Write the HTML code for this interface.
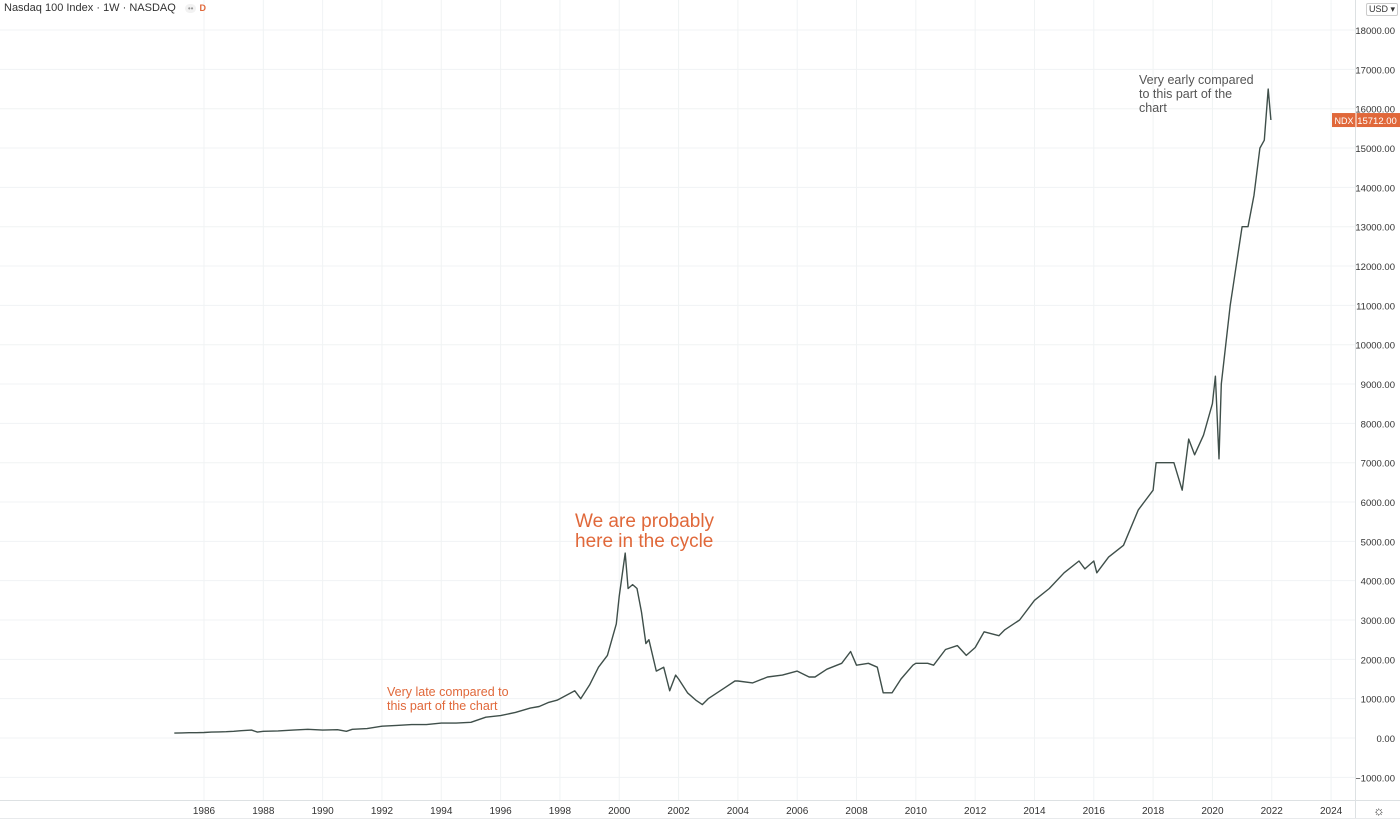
<!DOCTYPE html>
<html><head><meta charset="utf-8"><style>
body{margin:0;background:#fff;width:1400px;height:824px;overflow:hidden;font-family:"Liberation Sans",sans-serif}
svg{display:block}
</style></head><body>
<svg id="c" width="1400" height="824"></svg>
<script>
const years=[1985,1985.25,1985.5,1985.75,1986,1986.25,1986.5,1986.75,1987,1987.25,1987.6,1987.8,1988,1988.5,1989,1989.5,1990,1990.5,1990.8,1991,1991.5,1992,1992.5,1993,1993.5,1994,1994.5,1995,1995.5,1996,1996.5,1997,1997.3,1997.6,1997.9,1998,1998.5,1998.7,1999,1999.3,1999.6,1999.9,2000,2000.2,2000.3,2000.45,2000.6,2000.75,2000.9,2001,2001.25,2001.5,2001.7,2001.9,2002,2002.3,2002.6,2002.8,2003,2003.3,2003.6,2003.9,2004,2004.5,2005,2005.5,2006,2006.4,2006.6,2007,2007.5,2007.8,2008,2008.4,2008.7,2008.9,2009.2,2009.5,2009.9,2010,2010.4,2010.6,2011,2011.4,2011.7,2012,2012.3,2012.8,2013,2013.5,2014,2014.5,2015,2015.5,2015.7,2016,2016.1,2016.5,2017,2017.5,2018,2018.1,2018.7,2018.98,2019.2,2019.4,2019.7,2020,2020.1,2020.22,2020.3,2020.6,2020.7,2020.9,2021,2021.2,2021.4,2021.6,2021.75,2021.88,2021.97];
const values=[125,130,135,135,140,150,155,160,170,185,200,150,170,180,200,220,200,210,170,220,240,300,320,340,340,380,380,400,530,570,650,760,800,900,960,1000,1200,1000,1350,1800,2100,2900,3600,4700,3800,3900,3800,3200,2400,2500,1700,1800,1200,1600,1500,1150,950,850,1000,1150,1300,1450,1450,1400,1550,1600,1700,1550,1550,1750,1900,2200,1850,1900,1800,1150,1150,1500,1850,1900,1900,1850,2250,2350,2100,2300,2700,2600,2750,3000,3500,3800,4200,4500,4300,4500,4200,4600,4900,5800,6300,7000,7000,6300,7600,7200,7700,8500,9200,7100,9000,11000,11500,12500,13000,13000,13800,15000,15200,16500,15712];
const yTicks=[-1000,0,1000,2000,3000,4000,5000,6000,7000,8000,9000,10000,11000,12000,13000,14000,15000,16000,17000,18000];
const xTicks=[1986,1988,1990,1992,1994,1996,1998,2000,2002,2004,2006,2008,2010,2012,2014,2016,2018,2020,2022,2024];
const NS='http://www.w3.org/2000/svg';
const svg=document.getElementById('c');
const X=y=>204+(y-1986)*29.66;
const Y=v=>738-v*0.03933;
function mk(t,a,txt){const e=document.createElementNS(NS,t);for(const k in a)e.setAttribute(k,a[k]);if(txt!==undefined)e.textContent=txt;svg.appendChild(e);return e;}
yTicks.forEach(v=>{
 mk('line',{x1:0,x2:1355,y1:Y(v),y2:Y(v),stroke:'#f0f3f4','stroke-width':1});
 const t=mk('text',{x:1395,y:Y(v)+4,'text-anchor':'end','font-size':9.5,fill:'#333'},v.toFixed(2).replace(/^-/,'\u2212'));
 
 
});
xTicks.forEach(y=>{
 mk('line',{x1:X(y),x2:X(y),y1:0,y2:800,stroke:'#f0f3f4','stroke-width':1});
 const t=mk('text',{x:X(y),y:814,'text-anchor':'middle','font-size':10,fill:'#333'},String(y));
 
 
});
mk('line',{x1:1355.5,x2:1355.5,y1:0,y2:818,stroke:'#dde1e3'});
mk('line',{x1:0,x2:1400,y1:800.5,y2:800.5,stroke:'#dde1e3'});
mk('line',{x1:0,x2:1400,y1:818.5,y2:818.5,stroke:'#e8eaec'});
let d='';years.forEach((y,i)=>{d+=(i?'L':'M')+X(y).toFixed(1)+','+Y(values[i]).toFixed(1);});
const p=mk('path',{d:d,fill:'none',stroke:'#3f4f4a','stroke-width':1.4,'stroke-linejoin':'round'});


const last=values[values.length-1];
const lb=mk('rect',{x:1332,y:Y(last)-7,width:68,height:14,fill:'#e0683a'});


mk('line',{x1:1356,x2:1356,y1:Y(last)-7,y2:Y(last)+7,stroke:'#fff'});
mk('text',{x:1344,y:Y(last)+4,'text-anchor':'middle','font-size':9,fill:'#fff'},'NDX');
mk('text',{x:1377,y:Y(last)+4,'text-anchor':'middle','font-size':9.5,fill:'#fff'},last.toFixed(2));
</script>
<div style="position:absolute;left:4px;top:2px;font-size:11px;color:#333">Nasdaq 100 Index · 1W · NASDAQ <span style="font-size:8px;color:#999;background:#f2f2f2;border-radius:6px;padding:0 3px;margin-left:6px">••</span> <span style="color:#e0683a;font-size:9px;font-weight:bold">D</span></div>
<div style="position:absolute;left:1366px;top:3px;font-size:9px;color:#333;border:1px solid #ccc;border-radius:2px;padding:0 2px;white-space:nowrap">USD ▾</div>
<div style="position:absolute;left:1373px;top:803px;font-size:13px;color:#333">☼</div>
<div style="position:absolute;left:575px;top:512px;font-size:19px;line-height:20px;color:#e0683a">We are probably<br>here in the cycle</div>
<div style="position:absolute;left:387px;top:685px;font-size:12.5px;line-height:14px;color:#e0683a">Very late compared to<br>this part of the chart</div>
<div style="position:absolute;left:1139px;top:73px;font-size:12.5px;line-height:14px;color:#555">Very early compared<br>to this part of the<br>chart</div>
</body></html>
